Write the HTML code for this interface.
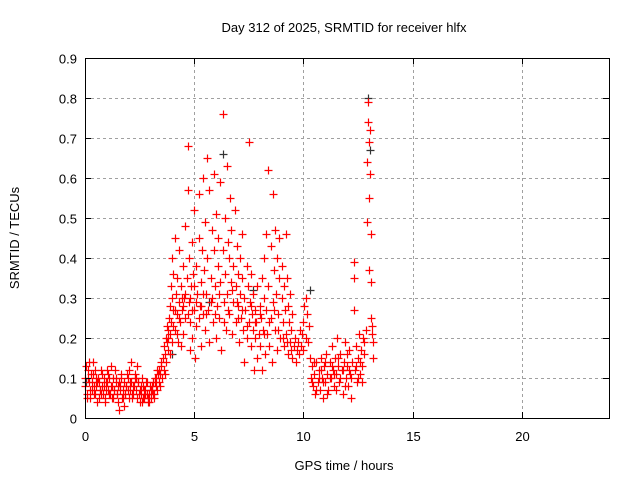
<!DOCTYPE html>
<html><head><meta charset="utf-8"><style>
html,body{margin:0;padding:0;background:#fff;}
svg{display:block;font-family:"Liberation Sans",sans-serif;}
</style></head><body>
<svg id="chart" width="640" height="480" viewBox="0 0 640 480" xmlns="http://www.w3.org/2000/svg">
<rect width="640" height="480" fill="#fff"/>
<text x="344" y="32" font-size="13" text-anchor="middle" fill="#000">Day 312 of 2025, SRMTID for receiver hlfx</text>
<text x="344" y="470" font-size="13" text-anchor="middle" fill="#000">GPS time / hours</text>
<text transform="translate(19,238) rotate(-90)" font-size="13" text-anchor="middle" fill="#000">SRMTID / TECUs</text>
<g id="grid"></g>
<g id="marks"></g>
<g id="axes"></g>
</svg>
<script>
const xTicks = [0, 5, 10, 15, 20];
const yTicks = [0, 0.1, 0.2, 0.3, 0.4, 0.5, 0.6, 0.7, 0.8, 0.9];
const yTickLabels = ["0","0.1","0.2","0.3","0.4","0.5","0.6","0.7","0.8","0.9"];
const redPoints = [
[0.0,0.08],[0.05,0.13],[0.1,0.05],[0.15,0.10],[0.2,0.14],[0.25,0.07],[0.3,0.09],[0.35,0.11],[0.4,0.06],[0.45,0.12],[0.5,0.08],[0.55,0.04],[0.6,0.10],[0.65,0.09],[0.7,0.07],[0.75,0.06],[0.8,0.11],[0.85,0.08],[0.9,0.05],[0.95,0.09],[1.0,0.12],[1.05,0.07],[1.1,0.10],[1.15,0.06],[1.2,0.13],[1.25,0.08],[1.3,0.05],[1.35,0.07],[1.4,0.10],[1.45,0.06],[1.5,0.04],[1.55,0.09],[1.6,0.08],[1.65,0.11],[1.7,0.05],[1.75,0.07],[1.8,0.03],[1.85,0.06],[1.9,0.08],[1.95,0.10],[2.0,0.12],[2.05,0.07],[2.1,0.09],[2.15,0.05],[2.2,0.06],[2.25,0.08],[2.3,0.11],[2.35,0.10],[2.4,0.13],[2.45,0.09],[2.5,0.07],[2.55,0.06],[2.6,0.04],[2.65,0.08],[2.7,0.05],[2.75,0.07],[2.8,0.09],[2.85,0.06],[2.9,0.05],[2.95,0.04],[3.0,0.07],[3.05,0.08],[3.1,0.06],[3.15,0.05],[3.2,0.09],[3.25,0.10],[3.3,0.07],[3.35,0.11],[3.4,0.12],[3.45,0.08],[3.5,0.13],
[0.02,0.10],[0.07,0.06],[0.12,0.12],[0.17,0.09],[0.22,0.05],[0.27,0.11],[0.32,0.07],[0.37,0.14],[0.42,0.08],[0.47,0.06],[0.52,0.10],[0.57,0.09],[0.62,0.05],[0.67,0.07],[0.72,0.12],[0.77,0.08],[0.82,0.06],[0.87,0.10],[0.92,0.04],[0.97,0.07],[1.02,0.09],[1.07,0.11],[1.12,0.06],[1.17,0.08],[1.22,0.05],[1.27,0.10],[1.32,0.07],[1.37,0.12],[1.42,0.09],[1.47,0.06],[1.52,0.08],[1.57,0.02],[1.62,0.07],[1.67,0.10],[1.72,0.05],[1.77,0.09],[1.82,0.06],[1.87,0.08],[1.92,0.11],[1.97,0.07],[2.02,0.05],[2.07,0.09],[2.12,0.14],[2.17,0.06],[2.22,0.08],[2.27,0.10],[2.32,0.07],[2.37,0.05],[2.42,0.09],[2.47,0.06],[2.52,0.04],[2.57,0.08],[2.62,0.10],[2.67,0.05],[2.72,0.07],[2.77,0.06],[2.82,0.09],[2.87,0.04],[2.92,0.06],[2.97,0.08],[3.02,0.05],[3.07,0.07],[3.12,0.09],[3.17,0.06],[3.22,0.10],[3.27,0.08],[3.32,0.12],[3.37,0.09],[3.42,0.11],[3.47,0.14],[3.52,0.10],
[3.6,0.12],[3.65,0.16],[3.7,0.20],[3.7,0.14],[3.75,0.19],[3.8,0.22],[3.8,0.17],[3.85,0.25],[3.9,0.21],[3.9,0.28],[3.95,0.33],[3.95,0.24],[4.0,0.40],[4.0,0.30],[4.05,0.36],[4.05,0.27],[4.1,0.45],[4.1,0.22],[4.15,0.31],[4.2,0.26],[4.2,0.35],[4.25,0.19],[4.3,0.29],[4.3,0.42],[4.35,0.24],[4.4,0.33],[4.4,0.18],[4.45,0.27],[4.5,0.38],[4.5,0.21],[4.55,0.30],[4.6,0.48],[4.6,0.25],[4.65,0.35],[4.7,0.57],[4.7,0.68],[4.75,0.40],[4.75,0.29],[4.8,0.17],[4.8,0.24],[4.85,0.33],[4.9,0.44],[4.9,0.20],[4.95,0.36],[5.0,0.27],[5.0,0.52],[5.05,0.15],[5.1,0.38],[5.1,0.23],[5.15,0.31],[5.2,0.56],[5.2,0.45],[5.25,0.28],[5.3,0.18],[5.3,0.34],[5.35,0.42],[5.4,0.60],[5.4,0.26],[5.45,0.37],[5.5,0.49],[5.5,0.22],[5.55,0.31],[5.6,0.65],[5.6,0.40],[5.65,0.27],[5.7,0.57],[5.7,0.19],[5.75,0.35],[5.8,0.47],[5.8,0.30],[5.85,0.24],[5.9,0.61],[5.9,0.42],[5.95,0.33],[6.0,0.20],[6.0,0.51],[6.05,0.28],[6.1,0.38],[6.1,0.45],[6.15,0.25],[6.2,0.59],[6.2,0.34],[6.25,0.17],[6.3,0.76],[6.3,0.42],[6.35,0.29],[6.4,0.50],[6.4,0.36],[6.45,0.22],[6.5,0.63],[6.5,0.31],[6.55,0.44],[6.6,0.26],[6.6,0.40],[6.65,0.55],[6.7,0.34],[6.7,0.47],[6.75,0.21],[6.8,0.29],[6.8,0.38],[6.85,0.52],[6.9,0.33],[6.9,0.24],[6.95,0.43],[7.0,0.28],[7.0,0.36],[7.05,0.19],[7.1,0.31],[7.1,0.40],[7.15,0.25],[7.2,0.35],[7.2,0.46],[7.25,0.22],[7.3,0.30],[7.3,0.14],[7.35,0.27],[7.4,0.38],[7.4,0.20],[7.45,0.33],[7.5,0.24],[7.5,0.69],[7.55,0.29],[7.6,0.18],[7.6,0.36],[7.65,0.26],[7.7,0.22],[7.7,0.31],[7.75,0.12],[7.8,0.27],[7.8,0.20],[7.85,0.24],[7.9,0.33],[7.9,0.15],[7.95,0.21],[8.0,0.28],[8.0,0.18],[8.05,0.25],[8.1,0.12],[8.1,0.35],[8.15,0.22],[8.2,0.30],[8.2,0.40],[8.25,0.16],[8.3,0.27],[8.3,0.46],[8.35,0.21],[8.4,0.62],[8.4,0.33],[8.45,0.18],[8.5,0.25],[8.5,0.43],[8.55,0.14],[8.6,0.29],[8.6,0.56],[8.65,0.37],[8.7,0.22],[8.7,0.47],[8.75,0.31],[8.8,0.17],[8.8,0.40],[8.85,0.26],[8.9,0.35],[8.9,0.45],[8.95,0.20],[9.0,0.30],[9.0,0.38],[9.05,0.24],[9.1,0.33],[9.1,0.18],[9.15,0.27],[9.2,0.46],[9.2,0.21],[9.25,0.35],[9.3,0.28],[9.3,0.16],[9.35,0.24],[9.4,0.19],[9.4,0.31],[9.45,0.22],[9.5,0.15],[9.5,0.26],[9.55,0.18],[9.6,0.20],[9.65,0.14],[9.7,0.17],
[4.5,0.28],[4.6,0.31],[4.7,0.26],[4.8,0.30],[4.9,0.27],[5.0,0.33],[5.1,0.29],[5.2,0.25],[5.3,0.28],[5.4,0.31],[7.0,0.25],[7.2,0.27],[7.4,0.23],[7.6,0.28],[7.8,0.24],[8.0,0.26],[8.2,0.21],
[3.55,0.15],[3.62,0.18],[3.68,0.11],[3.74,0.23],[3.82,0.20],[3.88,0.16],[3.98,0.19],[4.02,0.23],[4.12,0.27],[4.22,0.21],[4.32,0.25],[4.42,0.30],[5.55,0.26],[5.75,0.29],[5.95,0.26],[6.15,0.31],[6.35,0.24],[6.55,0.27],[6.75,0.32],[6.95,0.29],[8.45,0.24],[8.65,0.27],[8.85,0.22],[9.05,0.20],[9.25,0.19],[9.45,0.17],
[9.75,0.19],[9.8,0.16],[9.85,0.22],[9.9,0.18],[9.95,0.21],[10.0,0.24],[10.0,0.17],[10.05,0.28],[10.1,0.30],[10.1,0.20],[10.15,0.26],[10.2,0.19],[10.25,0.23],[10.3,0.15],
[10.35,0.10],[10.4,0.13],[10.45,0.08],[10.5,0.11],[10.55,0.06],[10.6,0.14],[10.65,0.09],[10.7,0.12],[10.75,0.07],[10.8,0.15],[10.85,0.10],[10.9,0.05],[10.95,0.13],[11.0,0.09],[11.05,0.16],[11.1,0.11],[11.15,0.07],[11.2,0.14],[11.25,0.10],[11.3,0.18],[11.35,0.12],[11.4,0.08],[11.45,0.15],[11.5,0.11],[11.55,0.20],[11.6,0.13],[11.65,0.09],[11.7,0.16],[11.75,0.12],[11.8,0.06],[11.85,0.14],[11.9,0.19],[11.95,0.10],[12.0,0.13],[12.05,0.08],[12.1,0.17],[12.15,0.11],[12.2,0.05],[12.25,0.14],[12.3,0.39],[12.3,0.27],[12.35,0.12],[12.4,0.18],[12.45,0.09],[12.5,0.15],[12.55,0.21],[12.6,0.11],[12.65,0.17],[12.7,0.13],[12.75,0.20],[12.8,0.16],
[10.4,0.09],[10.5,0.14],[10.6,0.07],[10.7,0.10],[10.8,0.12],[10.9,0.09],[11.0,0.14],[11.1,0.06],[11.2,0.10],[11.3,0.13],[11.4,0.11],[11.5,0.07],[11.6,0.15],[11.7,0.10],[11.8,0.12],[11.9,0.08],[12.0,0.16],[12.1,0.12],[12.2,0.10],[12.3,0.35],[12.4,0.13],[12.5,0.10],[12.6,0.14],[12.7,0.09],[12.8,0.19],
[12.85,0.22],[12.9,0.49],[12.9,0.64],[12.95,0.79],[12.95,0.74],[13.0,0.69],[13.0,0.55],[13.0,0.37],[13.05,0.72],[13.05,0.61],[13.1,0.46],[13.1,0.34],[13.1,0.25],[13.15,0.23],[13.15,0.21],[13.2,0.19],[13.2,0.15]
];
const blackPoints = [[0.05,0.09],[4.0,0.16],[5.7,0.29],[6.3,0.66],[7.7,0.32],[10.3,0.32],[12.95,0.80],[13.05,0.67]];

const X0 = 85, X1 = 609, Y0 = 418, Y1 = 58, XMAX = 24, YMAX = 0.9;
function xs(v){ return X0 + (X1 - X0) * v / XMAX; }
function ys(v){ return Y0 - (Y0 - Y1) * v / YMAX; }
const NS = "http://www.w3.org/2000/svg";
function mk(tag, attrs, parent){ const e = document.createElementNS(NS, tag); for (const k in attrs) e.setAttribute(k, attrs[k]); parent.appendChild(e); return e; }
const grid = document.getElementById('grid'), axes = document.getElementById('axes'), marks = document.getElementById('marks');

yTicks.forEach((t, i) => {
  const y = Math.round(ys(t)) + 0.5;
  if (i > 0 && i < yTicks.length - 1) {
    const g = mk('line', {x1: X0, x2: X1, y1: y, y2: y, stroke: '#a0a0a0', 'stroke-dasharray': '3,3', 'stroke-width': 1}, grid);
    
    
  }
  mk('line', {x1: X0, x2: X0 + 6, y1: y, y2: y, stroke: '#000'}, axes);
  mk('line', {x1: X1 - 6, x2: X1, y1: y, y2: y, stroke: '#000'}, axes);
  const l = mk('text', {x: X0 - 8, y: y + 5, 'font-size': 13, 'text-anchor': 'end', fill: '#000'}, axes);
  l.textContent = yTickLabels[i];
  
  
});
xTicks.forEach(t => {
  const x = Math.round(xs(t)) + 0.5;
  if (t > 0) {
    const g = mk('line', {x1: x, x2: x, y1: Y1, y2: Y0, stroke: '#a0a0a0', 'stroke-dasharray': '3,3', 'stroke-width': 1}, grid);
    
    
  }
  mk('line', {x1: x, x2: x, y1: Y0 - 6, y2: Y0, stroke: '#000'}, axes);
  mk('line', {x1: x, x2: x, y1: Y1, y2: Y1 + 6, stroke: '#000'}, axes);
  const l = mk('text', {x: x, y: Y0 + 23, 'font-size': 13, 'text-anchor': 'middle', fill: '#000'}, axes);
  l.textContent = String(t);
  
  
});
const frame = mk('rect', {x: X0 + 0.5, y: Y1 + 0.5, width: X1 - X0, height: Y0 - Y1, fill: 'none', stroke: '#000'}, axes);



function plus(p, color){
  const x = Math.round(xs(p[0])) + 0.5, y = Math.round(ys(p[1])) + 0.5;
  const e = mk('path', {d: `M${x-4},${y}H${x+4}M${x},${y-4}V${y+4}`, stroke: color, 'stroke-width': 1.2, fill: 'none'}, marks);
  
  
}
blackPoints.forEach(p => plus(p, '#333'));
redPoints.forEach(p => plus(p, '#ff0000'));
</script>
</body></html>
